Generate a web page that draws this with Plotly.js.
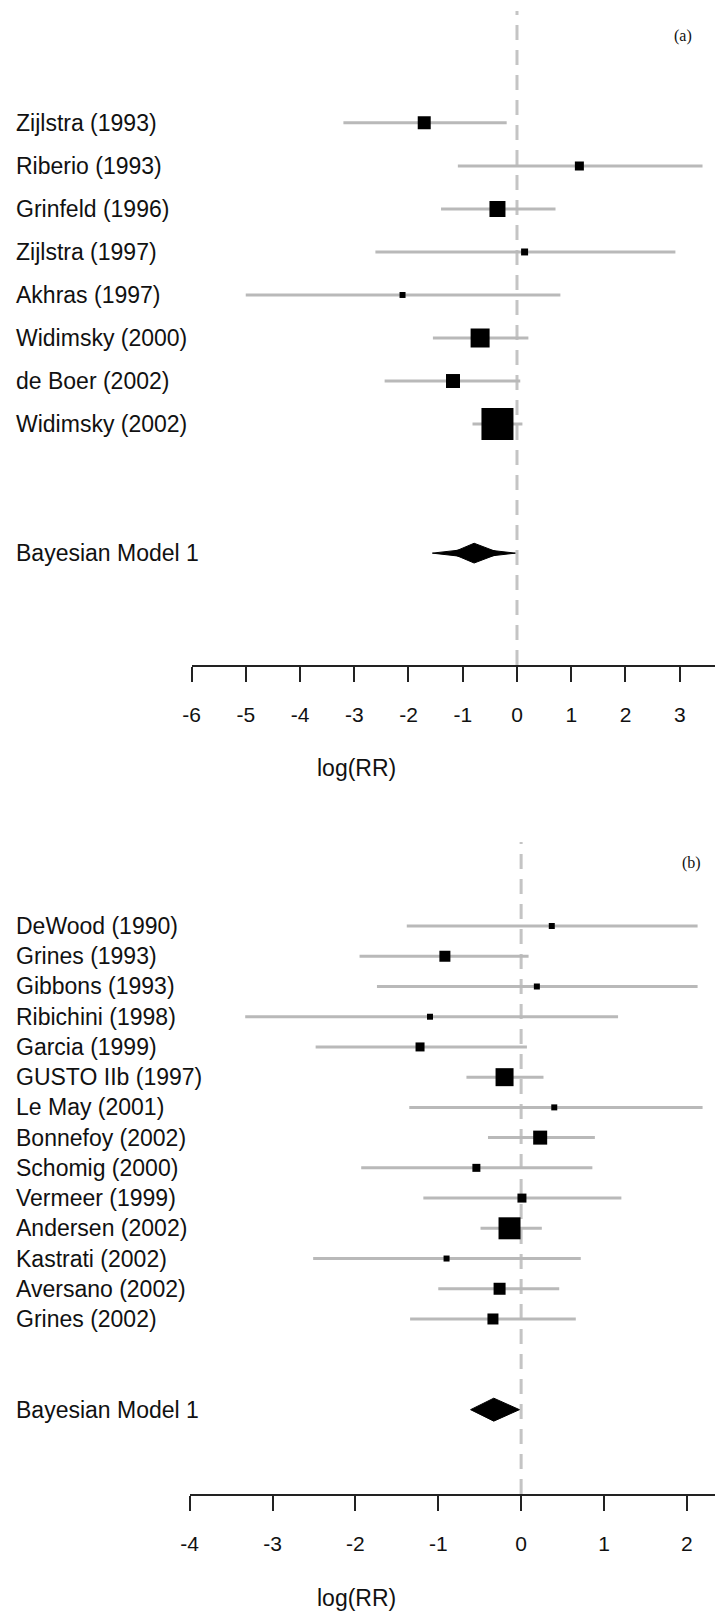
<!DOCTYPE html>
<html>
<head>
<meta charset="utf-8">
<script src="https://cdn.plot.ly/plotly-3.0.1.min.js"></script>
<style>html,body{margin:0;padding:0;background:#fff;}#chart{width:715px;height:1613px;}</style>
</head>
<body>
<div id="chart"></div>
<script>
// ---------- Panel (a) data ----------
const studiesA = ["Zijlstra (1993)", "Riberio (1993)", "Grinfeld (1996)", "Zijlstra (1997)",
                  "Akhras (1997)", "Widimsky (2000)", "de Boer (2002)", "Widimsky (2002)"];
const estA  = [-1.71, 1.15, -0.36, 0.14, -2.11, -0.68, -1.18, -0.36];
const lowA  = [-3.20, -1.09, -1.40, -2.61, -5.00, -1.55, -2.44, -0.82];
const highA = [-0.19, 3.42, 0.71, 2.92, 0.80, 0.21, 0.06, 0.10];
const sizeA = [13, 9, 16, 7, 6, 19, 14, 32];
const modelLabelA = "Bayesian Model 1";
// posterior summary: outer interval, inner interval, mean
const modelA = {lo: -1.56, loInner: -1.22, mean: -0.79, hiInner: -0.31, hi: -0.03};
const ticksA = [-6, -5, -4, -3, -2, -1, 0, 1, 2, 3];

// ---------- Panel (b) data ----------
const studiesB = ["DeWood (1990)", "Grines (1993)", "Gibbons (1993)", "Ribichini (1998)",
                  "Garcia (1999)", "GUSTO IIb (1997)", "Le May (2001)", "Bonnefoy (2002)",
                  "Schomig (2000)", "Vermeer (1999)", "Andersen (2002)", "Kastrati (2002)",
                  "Aversano (2002)", "Grines (2002)"];
const estB  = [0.37, -0.92, 0.19, -1.10, -1.22, -0.20, 0.40, 0.23, -0.54, 0.01, -0.14, -0.90, -0.26, -0.34];
const lowB  = [-1.38, -1.95, -1.74, -3.33, -2.48, -0.66, -1.35, -0.40, -1.93, -1.18, -0.49, -2.51, -1.00, -1.34];
const highB = [2.13, 0.09, 2.13, 1.17, 0.07, 0.27, 2.19, 0.89, 0.86, 1.21, 0.25, 0.72, 0.46, 0.66];
const sizeB = [6, 11, 6, 6, 9, 18, 6, 14, 8, 9, 22, 6, 12, 11];
const modelLabelB = "Bayesian Model 1";
const modelB = {lo: -0.61, mean: -0.33, hi: -0.02};
const ticksB = [-4, -3, -2, -1, 0, 1, 2];

const axisTitle = "log(RR)";
const panelTags = ["(a)", "(b)"];

// ---------- build ----------
const W = 715, H = 1613, ML = 189;
const PW = W - ML;
const px2paperX = p => (p - ML) / PW;
const px2paperY = p => 1 - p / H;

function ciTrace(low, high, xa, ya) {
  const x = [], y = [];
  low.forEach((l, i) => { x.push(l, high[i], null); y.push(i, i, null); });
  return {type: 'scatter', mode: 'lines', x, y, xaxis: xa, yaxis: ya,
          line: {color: '#b9b9b9', width: 3}, hoverinfo: 'skip', showlegend: false};
}
function ptTrace(est, sizes, xa, ya) {
  return {type: 'scatter', mode: 'markers', x: est, y: est.map((_, i) => i), xaxis: xa, yaxis: ya,
          opacity: 1,
          marker: {symbol: 'square', size: sizes, color: '#000', opacity: 1, line: {width: 0}},
          showlegend: false};
}
function diamond(lo, mid, hi, row, h, xa, ya) {
  return {type: 'scatter', mode: 'lines', fill: 'toself', fillcolor: '#000',
          line: {color: '#000', width: 1}, xaxis: xa, yaxis: ya, showlegend: false,
          x: [lo, mid, hi, mid, lo], y: [row, row - h, row, row + h, row]};
}

const rowModelA = studiesA.length + 2;
const rowModelB = studiesB.length + 2;

const data = [
  ciTrace(lowA, highA, 'x', 'y'), ptTrace(estA, sizeA, 'x', 'y'),
  diamond(modelA.lo, modelA.mean, modelA.hi, rowModelA, 0.11, 'x', 'y'),
  diamond(modelA.loInner, modelA.mean, modelA.hiInner, rowModelA, 0.23, 'x', 'y'),
  ciTrace(lowB, highB, 'x2', 'y2'), ptTrace(estB, sizeB, 'x2', 'y2'),
  diamond(modelB.lo, modelB.mean, modelB.hi, rowModelB, 0.38, 'x2', 'y2')
];

const tickFont = {family: 'Liberation Sans, Arial, sans-serif', size: 21, color: '#111'};
function xAxis(ticks, rangeMax, domLeftPx, anchor) {
  return {
    range: [ticks[0], rangeMax], domain: [px2paperX(domLeftPx), 1], anchor: anchor,
    tickvals: ticks, ticktext: ticks.map(String),
    showgrid: false, zeroline: false, showline: true, linecolor: '#222', linewidth: 2,
    ticks: 'outside', ticklen: 15, tickwidth: 2, tickcolor: '#222',
    tickfont: tickFont, ticklabelstandoff: 15, fixedrange: true
  };
}

const layout = {
  width: W, height: H,
  margin: {l: ML, r: 0, t: 0, b: 0},
  paper_bgcolor: '#fff', plot_bgcolor: '#fff',
  showlegend: false,
  font: {family: 'Liberation Sans, Arial, sans-serif', color: '#111'},
  xaxis: xAxis(ticksA, 3.65, 191.5, 'y'),
  xaxis2: xAxis(ticksB, 2.34, 189.7, 'y2'),
  yaxis: {range: [12.6, -2.6], domain: [px2paperY(665), px2paperY(11)], anchor: 'x',
          visible: false, fixedrange: true},
  yaxis2: {range: [18.79, -2.78], domain: [px2paperY(1494), px2paperY(842)], anchor: 'x2',
           visible: false, fixedrange: true},
  shapes: [
    {type: 'line', xref: 'x', yref: 'y domain', x0: 0, x1: 0, y0: 0, y1: 1,
     line: {color: '#c4c4c4', width: 3, dash: '15px,10px'}, layer: 'below'},
    {type: 'line', xref: 'x2', yref: 'y2 domain', x0: 0, x1: 0, y0: 0, y1: 1,
     line: {color: '#c4c4c4', width: 3, dash: '15px,10px'}, layer: 'below'}
  ],
  annotations: []
};

const labelFont = {family: 'Liberation Sans, Arial, sans-serif', size: 23, color: '#111'};
const labelX = px2paperX(14);
studiesA.forEach((s, i) => layout.annotations.push({text: s, xref: 'paper', yref: 'y', x: labelX, y: i,
  xanchor: 'left', yanchor: 'middle', showarrow: false, font: labelFont}));
layout.annotations.push({text: modelLabelA, xref: 'paper', yref: 'y', x: labelX, y: rowModelA,
  xanchor: 'left', yanchor: 'middle', showarrow: false, font: labelFont});
studiesB.forEach((s, i) => layout.annotations.push({text: s, xref: 'paper', yref: 'y2', x: labelX, y: i,
  xanchor: 'left', yanchor: 'middle', showarrow: false, font: labelFont}));
layout.annotations.push({text: modelLabelB, xref: 'paper', yref: 'y2', x: labelX, y: rowModelB,
  xanchor: 'left', yanchor: 'middle', showarrow: false, font: labelFont});

[768, 1598].forEach(yp => layout.annotations.push({text: axisTitle, xref: 'paper', yref: 'paper',
  x: px2paperX(356), y: px2paperY(yp), xanchor: 'center', yanchor: 'middle', showarrow: false, font: labelFont}));

const tagFont = {family: 'Liberation Serif, Times New Roman, serif', size: 16, color: '#111'};
layout.annotations.push({text: panelTags[0], xref: 'paper', yref: 'paper', x: px2paperX(683), y: px2paperY(36),
  xanchor: 'center', yanchor: 'middle', showarrow: false, font: tagFont});
layout.annotations.push({text: panelTags[1], xref: 'paper', yref: 'paper', x: px2paperX(691), y: px2paperY(863),
  xanchor: 'center', yanchor: 'middle', showarrow: false, font: tagFont});

Plotly.newPlot('chart', data, layout, {displayModeBar: false, staticPlot: true});
</script>
</body>
</html>
